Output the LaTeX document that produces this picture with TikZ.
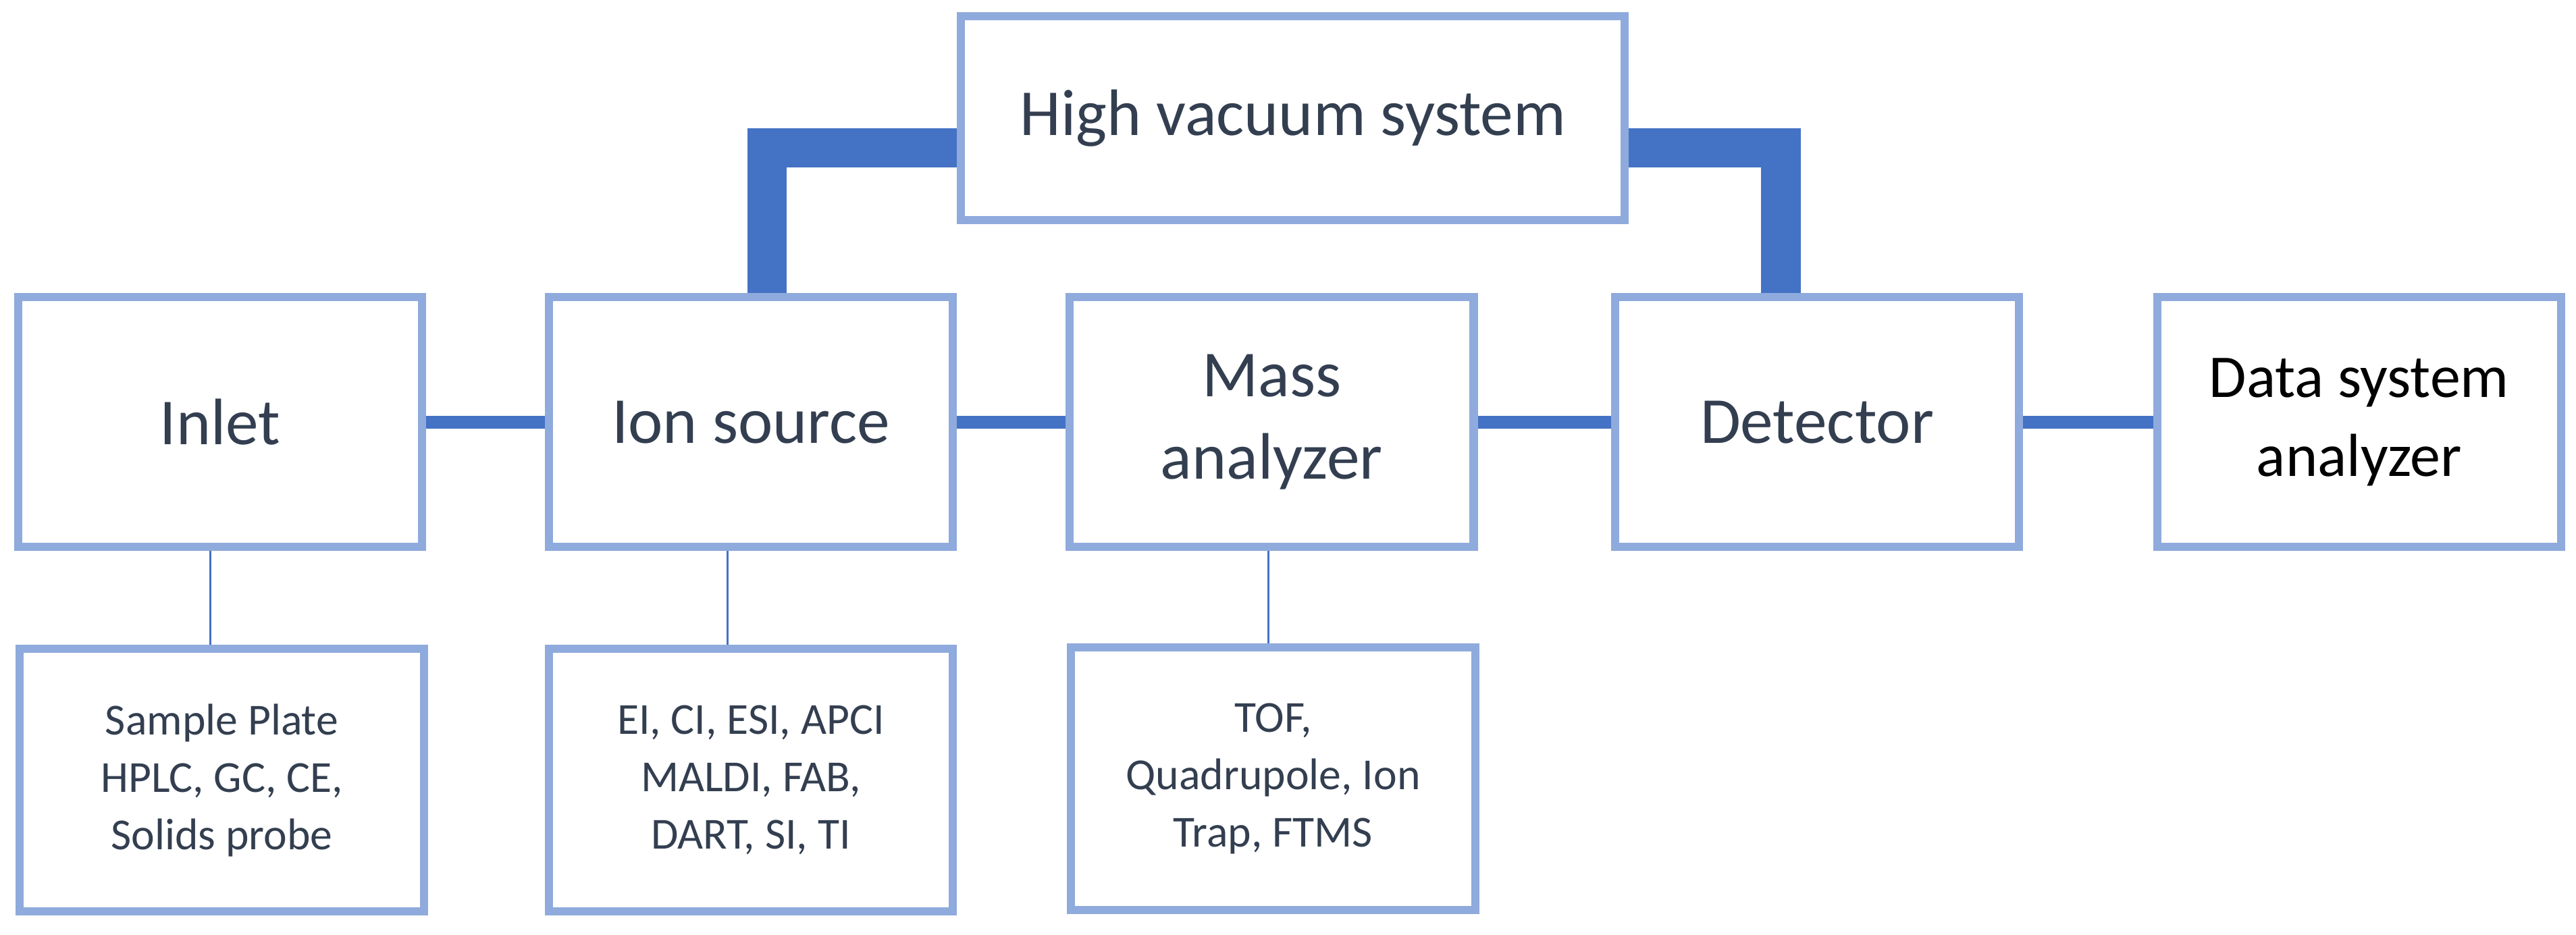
\documentclass[tikz,border=0pt]{standalone}
\usepackage{fontspec}
\setmainfont{Carlito}
\definecolor{boxline}{HTML}{8FAADC}
\definecolor{linkblue}{HTML}{4472C4}
\definecolor{txt}{HTML}{333F50}
\begin{document}
\begin{tikzpicture}[x=0.5pt,y=-0.5pt,
    unit/.style={draw=boxline, line width=2.5pt, minimum width=123pt, minimum height=76pt, text=txt, font=\fontsize{20}{25}\selectfont, align=center, inner sep=0pt},
    opt/.style={draw=boxline, line width=2.5pt, minimum width=123pt, minimum height=80pt, text=txt, font=\fontsize{13.5}{17.5}\selectfont, align=center, inner sep=0pt},
    link/.style={linkblue, line width=4pt},
    vac/.style={linkblue, line width=12pt},
    tie/.style={linkblue, line width=0.6pt}]
    \useasboundingbox (0,0) rectangle (1568,569);

    % Hauptkette
    \node[unit] (vacuum) at (787,72) [minimum width=202pt, minimum height=62pt] {High vacuum system};
    \node[unit] (inlet) at (134,257) {Inlet};
    \node[unit] (source) at (457,257) {Ion source};
    \node[unit] (analyzer) at (774,257) {Mass\\analyzer};
    \node[unit] (detector) at (1106,257) {Detector};
    \node[unit, text=black, font=\fontsize{18.5}{24}\selectfont] (data) at (1436,257) {Data system\\analyzer};

    % Verbindungen
    \draw[link] (inlet) -- (source);
    \draw[link] (source) -- (analyzer);
    \draw[link] (analyzer) -- (detector);
    \draw[link] (detector) -- (data);

    % Vakuum
    \draw[vac] (source.north -| 467,0) |- (vacuum.west |- 0,90);
    \draw[vac] (vacuum.east |- 0,90) -| (detector.north -| 1084,0);

    % Varianten
    \node[opt] (inletopt) at (135,475) {Sample Plate\\HPLC, GC, CE,\\Solids probe};
    \node[opt] (sourceopt) at (457,475) {EI, CI, ESI, APCI\\MALDI, FAB,\\DART, SI, TI};
    \node[opt] (analyzeropt) at (775,474) {TOF,\\Quadrupole, Ion\\Trap, FTMS};
    \draw[tie] (inlet.south -| 128,0) -- (inletopt.north -| 128,0);
    \draw[tie] (source.south -| 443,0) -- (sourceopt.north -| 443,0);
    \draw[tie] (analyzer.south -| 772,0) -- (analyzeropt.north -| 772,0);
\end{tikzpicture}
\end{document}
